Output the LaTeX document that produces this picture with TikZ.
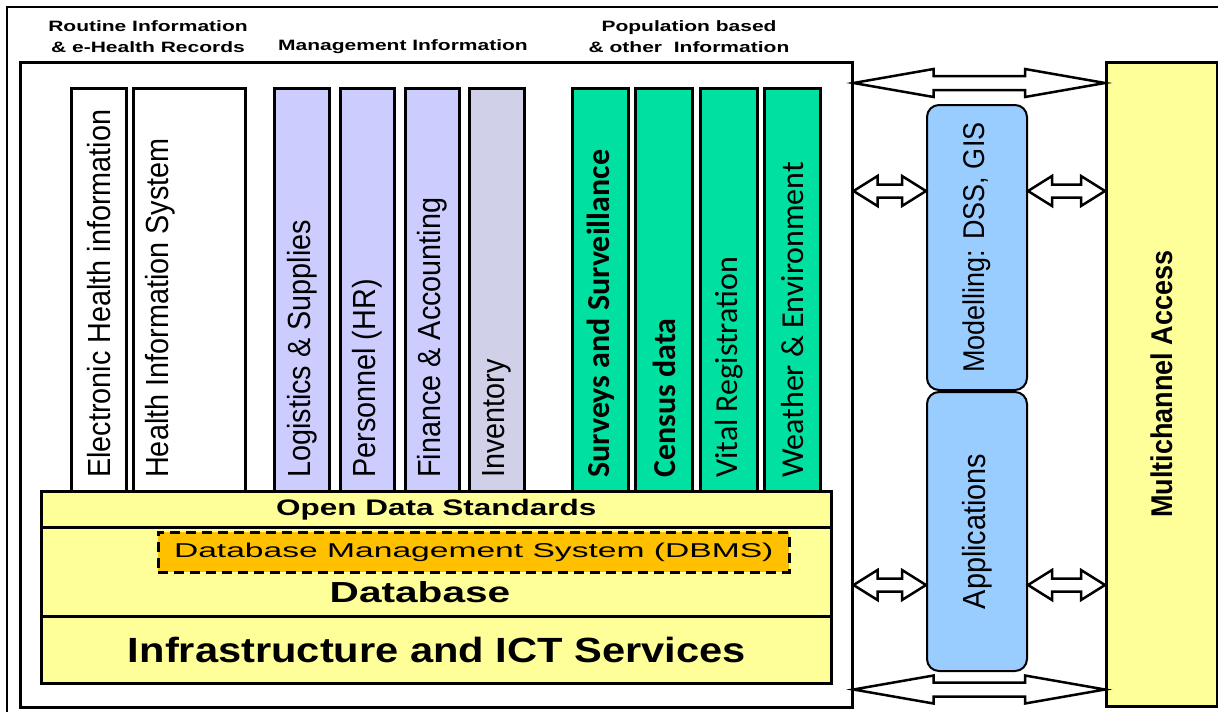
\documentclass[tikz,border=0pt]{standalone}
\usepackage{fontspec}
\setmainfont{Liberation Sans}
\newfontfamily\widefont[FakeStretch=1.4]{Liberation Sans}
\newfontfamily\broadfont[FakeStretch=1.68]{Liberation Sans}
\newfontfamily\infrafont[FakeStretch=1.19]{Liberation Sans}
\newfontfamily\tallfont[FakeStretch=0.9]{Liberation Sans}
\newfontfamily\calfont{Carlito}
\usetikzlibrary{calc}
\tikzset{>=latex}

\definecolor{layeryellow}{HTML}{FFFF99}
\definecolor{mgmtblue}{HTML}{CCCCFF}
\definecolor{invgrey}{HTML}{D0D0E8}
\definecolor{popgreen}{HTML}{00E0A0}
\definecolor{dbmsorange}{HTML}{FFC000}
\definecolor{toolblue}{HTML}{99CCFF}

\tikzset{
  infocol/.style={draw,line width=3pt,anchor=north west,inner sep=0pt,
    minimum height=403pt},
  layerbox/.style={draw,line width=2.5pt,fill=layeryellow,anchor=north west,
    inner sep=0pt,minimum width=790pt},
  toolbox/.style={draw,line width=2pt,rounded corners=12pt,fill=toolblue,
    anchor=north west,inner sep=0pt,minimum width=100pt},
  coltext/.style={rotate=90,anchor=west,inner sep=0pt,
    font=\tallfont\fontsize{32}{32}\selectfont},
  greentext/.style={rotate=90,anchor=west,inner sep=0pt,
    font=\calfont\fontsize{32}{32}\selectfont},
  header/.style={align=center,inner sep=0pt,
    font=\widefont\bfseries\fontsize{15}{21}\selectfont},
  arrowbox/.style={draw,line width=2.5pt,fill=white,line join=miter},
}

% block arrow with two heads: start, end, head length, head half, shaft half
\newcommand{\dblarrow}[5]{%
  \draw[arrowbox] (#1) -- ($(#1)+(#3,-#4)$) -- ($(#1)+(#3,-#5)$)
    -- ($(#2)+(-#3,-#5)$) -- ($(#2)+(-#3,-#4)$) -- (#2)
    -- ($(#2)+(-#3,#4)$) -- ($(#2)+(-#3,#5)$) -- ($(#1)+(#3,#5)$)
    -- ($(#1)+(#3,#4)$) -- cycle;}

\begin{document}
\begin{tikzpicture}[x=1pt,y=-1pt]
    \useasboundingbox (0,0) rectangle (1218,712);
    \draw [line width=2.5pt] (7,712) -- (7,7) -- (1218,7);

    % main frame and access column
    \node [draw,line width=2.5pt,anchor=north west,inner sep=0pt,
    minimum width=832pt,minimum height=645pt] (main) at (19,61) {};

    \node [draw,line width=2.5pt,fill=layeryellow,anchor=north west,
    inner sep=0pt,minimum width=111pt,minimum height=644pt] (access)
    at (1105,61) {};
    \node [rotate=90,inner sep=0pt,
    font=\tallfont\bfseries\fontsize{30}{30}\selectfont] (accesstxt)
    at (access.center) {Multichannel Access};

    \node [header] (hdrroutine) at (148,37)
    {Routine Information\\\& e-Health Records};
    \node [header] (hdrmgmt) at (403,47) {Management Information};
    \node [header] (hdrpop) at (689,37)
    {Population based\\\& other\ \ Information};

    % information columns
    \node [infocol,fill=white,minimum width=55pt] (ehi) at (70,87) {};
    \node [coltext] (ehitxt) at ($(ehi.south)+(0,-15)$)
    {Electronic Health information};

    \node [infocol,fill=white,minimum width=112pt] (his) at (132,87) {};
    \node [coltext] (histxt) at ($(his.south west)+(28,-15)$)
    {Health Information System};

    \node [infocol,fill=mgmtblue,minimum width=55pt] (logi) at (273,87) {};
    \node [coltext] (logitxt) at ($(logi.south)+(0,-15)$)
    {Logistics \& Supplies};

    \node [infocol,fill=mgmtblue,minimum width=54pt] (pers) at (339,87) {};
    \node [coltext] (perstxt) at ($(pers.south)+(0,-15)$) {Personnel (HR)};

    \node [infocol,fill=mgmtblue,minimum width=54pt] (fin) at (404,87) {};
    \node [coltext] (fintxt) at ($(fin.south)+(0,-15)$)
    {Finance \& Accounting};

    \node [infocol,fill=invgrey,minimum width=55pt] (inv) at (468,87) {};
    \node [coltext] (invtxt) at ($(inv.south)+(0,-15)$) {Inventory};

    \node [infocol,fill=popgreen,minimum width=56pt] (surv) at (571,87) {};
    \node [greentext,font=\calfont\bfseries\fontsize{32}{32}\selectfont]
    (survtxt) at ($(surv.south)+(0,-15)$) {Surveys and Surveillance};

    \node [infocol,fill=popgreen,minimum width=57pt] (census) at (634,87) {};
    \node [greentext,font=\calfont\bfseries\fontsize{32}{32}\selectfont]
    (censustxt) at ($(census.south)+(0,-15)$) {Census data};

    \node [infocol,fill=popgreen,minimum width=57pt] (vital) at (699,87) {};
    \node [greentext] (vitaltxt) at ($(vital.south)+(0,-15)$)
    {Vital Registration};

    \node [infocol,fill=popgreen,minimum width=56pt] (weather) at (763,87) {};
    \node [greentext] (weathertxt) at ($(weather.south)+(0,-15)$)
    {Weather \& Environment};

    % layers
    \node [layerbox,minimum height=36pt] (ods) at (40,490) {};
    \node [font=\widefont\bfseries\fontsize{22.5}{22.5}\selectfont]
    (odstxt) at (ods.center) {Open Data Standards};

    \node [layerbox,minimum height=89pt] (db) at (40,526) {};
    \node [draw,dashed,dash pattern=on 10pt off 6pt,line width=2.5pt,
    fill=dbmsorange,anchor=north west,inner sep=0pt,minimum width=631pt,
    minimum height=40pt,font=\broadfont\fontsize{20}{20}\selectfont]
    (dbms) at (157,531) {Database Management System (DBMS)};
    \node [font=\widefont\bfseries\fontsize{29}{29}\selectfont]
    (dbtxt) at (420,592) {Database};

    \node [layerbox,minimum height=67pt] (infra) at (40,615) {};
    \node [font=\infrafont\bfseries\fontsize{35}{35}\selectfont]
    (infratxt) at (437,650) {Infrastructure and ICT Services};

    % tools
    \node [toolbox,minimum height=285pt] (model) at (926,104) {};
    \node [rotate=90,inner sep=0pt,font=\tallfont\fontsize{30}{30}\selectfont]
    (modeltxt) at (model.center) {Modelling: DSS, GIS};

    \node [toolbox,minimum height=279pt] (apps) at (926,391) {};
    \node [rotate=90,inner sep=0pt,font=\tallfont\fontsize{32}{32}\selectfont]
    (appstxt) at (apps.center) {Applications};

    % arrows
    \coordinate (topa) at ($(main.north east)+(0,22)$);
    \coordinate (topb) at ($(access.north west)+(0,22)$);
    \dblarrow{topa}{topb}{80}{14}{7}

    \coordinate (bota) at ($(main.south east)+(0,-19)$);
    \coordinate (botb) at ($(access.south west)+(0,-18)$);
    \dblarrow{bota}{botb}{80}{14}{7}

    \coordinate (ma) at ($(main.north east)+(0,130)$);
    \coordinate (mb) at ($(model.north west)+(0,87)$);
    \coordinate (mc) at ($(model.north east)+(0,87)$);
    \coordinate (md) at ($(access.north west)+(0,130)$);
    \dblarrow{ma}{mb}{24}{15}{6.5}
    \dblarrow{mc}{md}{24}{15}{6.5}

    \coordinate (aa) at ($(main.north east)+(0,524)$);
    \coordinate (ab) at ($(apps.north west)+(0,194)$);
    \coordinate (ac) at ($(apps.north east)+(0,194)$);
    \coordinate (ad) at ($(access.north west)+(0,524)$);
    \dblarrow{aa}{ab}{24}{15}{6.5}
    \dblarrow{ac}{ad}{24}{15}{6.5}
  \end{tikzpicture}
\end{document}
